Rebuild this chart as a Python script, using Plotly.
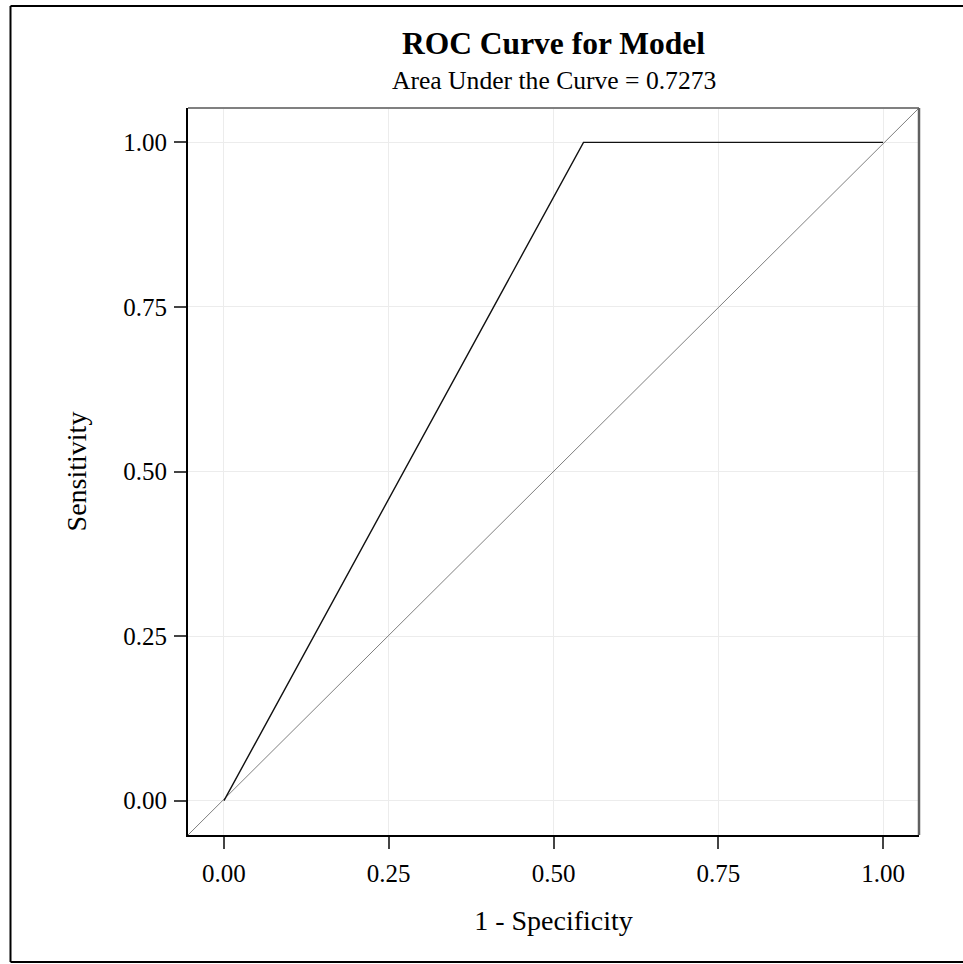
import plotly.graph_objects as go

# ROC data
fpr = [0.0, 0.5455, 1.0]          # 1 - Specificity
tpr = [0.0, 1.0, 1.0]             # Sensitivity
auc = 0.7273
tick_vals = [0.0, 0.25, 0.5, 0.75, 1.0]
tick_text = ["0.00", "0.25", "0.50", "0.75", "1.00"]
x_range = [-0.0546, 1.0546]
y_range = [-0.0522, 1.0522]

W, H = 963, 964
ML, MR, MT, MB = 188, 44, 108, 129
PW, PH = W - ML - MR, H - MT - MB

def px_to_paper_y(py):
    return 1 + (MT - py) / PH

def px_to_paper_x(px):
    return (px - ML) / PW

FONT = "Liberation Serif, Times New Roman, serif"

fig = go.Figure()
# line of equality across full range
fig.add_trace(go.Scatter(x=x_range, y=y_range, mode="lines",
                         line=dict(color="#7f7f7f", width=1), hoverinfo="skip",
                         showlegend=False))
fig.add_trace(go.Scatter(x=fpr, y=tpr, mode="lines",
                         line=dict(color="#111111", width=1.4), showlegend=False))

axis_common = dict(
    tickvals=tick_vals, ticktext=tick_text, showgrid=True, gridcolor="#ececec",
    gridwidth=1, zeroline=False, showline=True, linecolor="#000000", linewidth=2,
    ticks="outside", ticklen=12, tickwidth=1.5, tickcolor="#444444",
    tickfont=dict(family=FONT, size=25, color="#000000"),
)
fig.update_xaxes(range=x_range, title=dict(text="1 - Specificity",
                 font=dict(family=FONT, size=28, color="#000000"), standoff=24),
                 ticklabelstandoff=3, **axis_common)
fig.update_yaxes(range=y_range, title=dict(text="Sensitivity",
                 font=dict(family=FONT, size=28, color="#000000"), standoff=28),
                 ticklabelstandoff=2, **axis_common)

# top and right plot borders (gray)
fig.add_shape(type="line", xref="paper", yref="paper", x0=0, x1=1, y0=1, y1=1,
              line=dict(color="#808080", width=2))
fig.add_shape(type="line", xref="paper", yref="paper", x0=1, x1=1, y0=0, y1=1,
              line=dict(color="#606060", width=2.5))
# outer frame (top, left, bottom; right side falls outside the image)
frame = dict(color="#000000", width=2)
fig.add_shape(type="line", xref="paper", yref="paper",
              x0=px_to_paper_x(10.5), x1=px_to_paper_x(975),
              y0=px_to_paper_y(6), y1=px_to_paper_y(6), line=frame)
fig.add_shape(type="line", xref="paper", yref="paper",
              x0=px_to_paper_x(10.5), x1=px_to_paper_x(10.5),
              y0=px_to_paper_y(6), y1=px_to_paper_y(962), line=frame)
fig.add_shape(type="line", xref="paper", yref="paper",
              x0=px_to_paper_x(10.5), x1=px_to_paper_x(975),
              y0=px_to_paper_y(962), y1=px_to_paper_y(962), line=frame)

fig.add_annotation(text="<b>ROC Curve for Model</b>", xref="paper", yref="paper",
                   x=0.5, y=px_to_paper_y(44), xanchor="center", yanchor="middle",
                   showarrow=False, font=dict(family=FONT, size=31.5, color="#000000"))
fig.add_annotation(text=f"Area Under the Curve = {auc:.4f}", xref="paper", yref="paper",
                   x=0.5, y=px_to_paper_y(80), xanchor="center", yanchor="middle",
                   showarrow=False, font=dict(family=FONT, size=25.6, color="#000000"))

fig.update_layout(width=W, height=H, margin=dict(l=ML, r=MR, t=MT, b=MB),
                  plot_bgcolor="white", paper_bgcolor="white", showlegend=False)

fig.write_html("out.html", config={"displayModeBar": False},
               post_script="document.body.style.margin='0px';")
